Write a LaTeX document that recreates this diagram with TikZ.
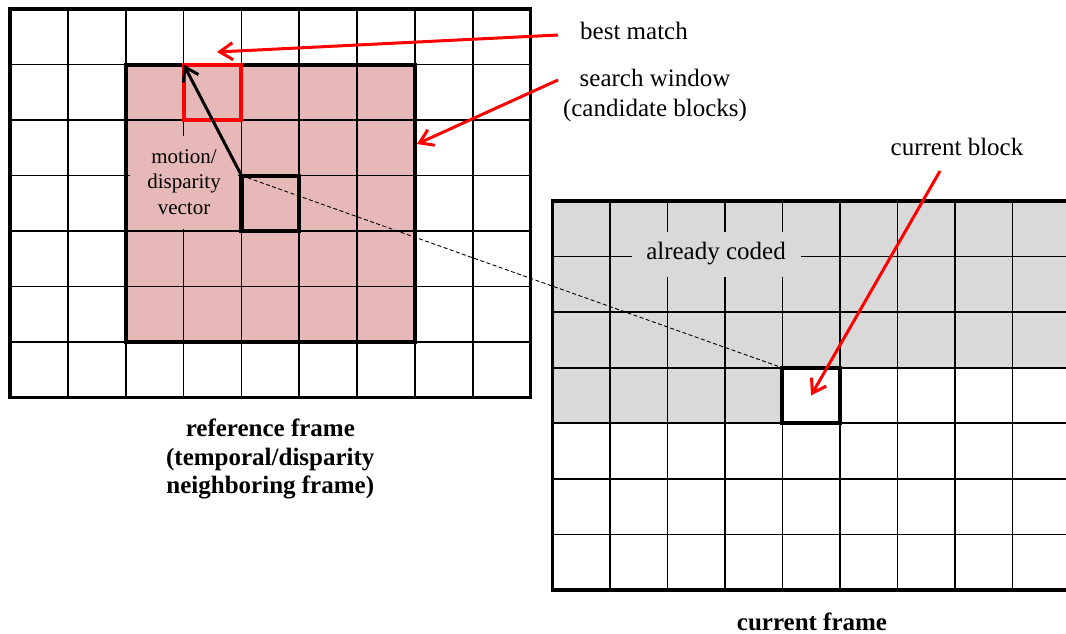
\documentclass[tikz,border=0pt]{standalone}
\usepackage{fontspec}
\setmainfont{Liberation Serif}
\usetikzlibrary{arrows.meta}

\definecolor{winpink}{HTML}{E6B8B7}
\definecolor{codedgray}{HTML}{D9D9D9}
\definecolor{markred}{HTML}{FF0000}

\begin{document}
\begin{tikzpicture}[x=1pt,y=-1pt,
    gridline/.style={line width=1.6pt,black},
    frameborder/.style={line width=3.2pt,black},
    blockbox/.style={draw,line width=4pt,minimum width=57.7pt,minimum height=55.5pt,inner sep=0pt,outer sep=0pt},
    labeltext/.style={font=\fontsize{25}{30}\selectfont,align=center,inner sep=0pt},
    frametitle/.style={font=\fontsize{25}{28.7}\selectfont\bfseries,align=center,inner sep=0pt},
    redarrow/.style={draw=markred,line width=3pt,-{Straight Barb[length=13pt,width=17pt]}},
    vecarrow/.style={draw=black,line width=3pt,-{Straight Barb[length=13pt,width=17pt]}}
  ]
\useasboundingbox (0,0) rectangle (1066,634);
\clip (0,0) rectangle (1066,634);

% ---------- reference frame (left grid) ----------
\def\lx{10}\def\ly{9}\def\lw{57.855}\def\lh{55.53}
% search window fill
\fill[winpink] ({\lx+2*\lw},{\ly+\lh}) rectangle ({\lx+7*\lw},{\ly+6*\lh});
\foreach \i in {1,...,8} \draw[gridline] ({\lx+\i*\lw},\ly) -- ({\lx+\i*\lw},{\ly+7*\lh});
\foreach \j in {1,...,6} \draw[gridline] (\lx,{\ly+\j*\lh}) -- ({\lx+9*\lw},{\ly+\j*\lh});

% ---------- current frame (right grid) ----------
\def\rx{552.3}\def\ry{201}\def\rw{57.5}\def\rh{55.57}
\fill[codedgray] (\rx,\ry) -- ({\rx+9*\rw},\ry) -- ({\rx+9*\rw},{\ry+3*\rh})
  -- ({\rx+4*\rw},{\ry+3*\rh}) -- ({\rx+4*\rw},{\ry+4*\rh}) -- (\rx,{\ry+4*\rh}) -- cycle;
\foreach \i in {1,...,8} \draw[gridline] ({\rx+\i*\rw},\ry) -- ({\rx+\i*\rw},{\ry+7*\rh});
\foreach \j in {1,...,6} \draw[gridline] (\rx,{\ry+\j*\rh}) -- ({\rx+9*\rw},{\ry+\j*\rh});

% labels sitting on the grids
\node[fill=winpink,font=\fontsize{21}{25.5}\selectfont,align=center,inner sep=0pt,
      minimum width=108pt,minimum height=93pt] (mv) at (184,182) {motion/\\disparity\\vector};
\node[fill=codedgray,labeltext,minimum width=169pt,minimum height=45pt] (coded) at (716,254) {already coded};

% frame borders
\draw[frameborder] (\lx,\ly) rectangle ({\lx+9*\lw},{\ly+7*\lh});
\draw[frameborder] (\rx,\ry) rectangle ({\rx+9*\rw},{\ry+7*\rh});
\draw[line width=4pt] ({\lx+2*\lw},{\ly+\lh}) rectangle ({\lx+7*\lw},{\ly+6*\lh});
\coordinate (winright) at (417,144);

% blocks
\node[blockbox,draw=markred] (best) at ({\lx+3.5*\lw},{\ly+1.5*\lh}) {};
\node[blockbox] (refblk) at ({\lx+4.5*\lw},{\ly+3.5*\lh}) {};
\node[blockbox] (cur) at ({\rx+4.5*\rw},{\ry+3.5*\rh}) {};

% correspondence and motion vector
\draw[line width=0.9pt,dash pattern=on 4pt off 2.5pt] (refblk.north west) -- (cur.north west);
\draw[vecarrow] (refblk.north west) -- (best.north west);

% annotations
\node[labeltext] (bmlab) at (634,31) {best match};
\node[labeltext] (swlab) at (655,95) {search window\\(candidate blocks)};
\node[labeltext] (cblab) at (957,147) {current block};
\coordinate (bmtip) at (217,52);

\draw[redarrow] (558,35) coordinate (bmtail) -- (bmtip);
\draw[redarrow] (558,80) coordinate (swtail) -- (winright);
\draw[redarrow] (940,171) coordinate (cbtail) -- (cur.center);

% frame titles
\node[frametitle] (reftitle) at (270.3,459) {reference frame\\(temporal/disparity\\neighboring frame)};
\node[frametitle] (curtitle) at (812,622) {current frame};
\end{tikzpicture}
\end{document}
